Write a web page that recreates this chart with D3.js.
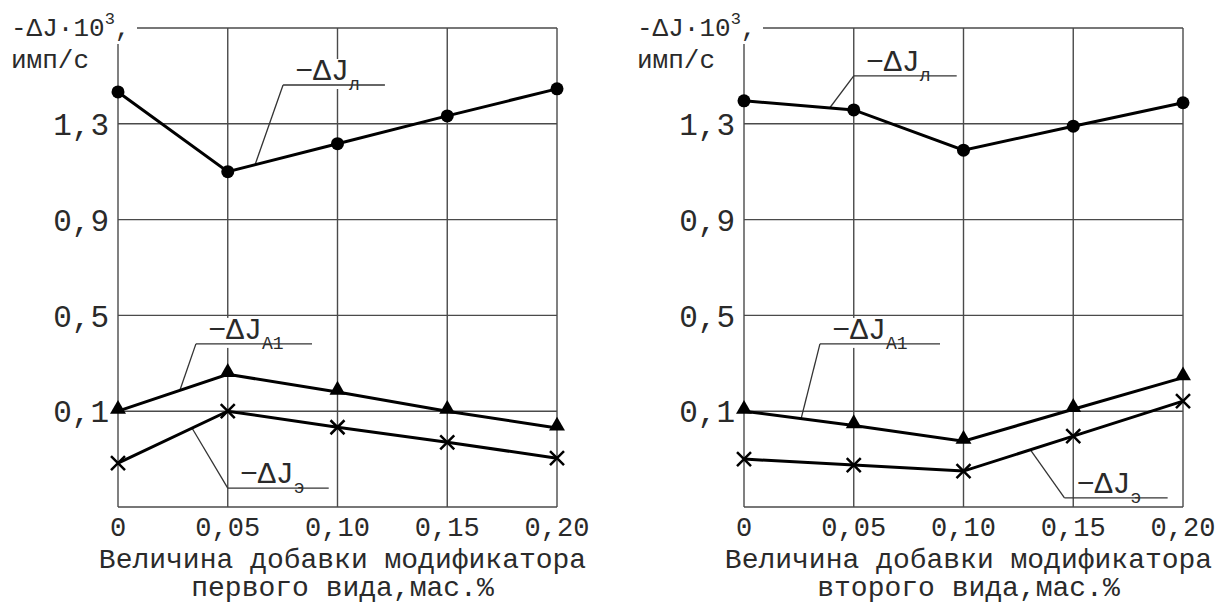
<!DOCTYPE html>
<html>
<head>
<meta charset="utf-8">
<script src="https://cdn.jsdelivr.net/npm/d3@7"></script>
<style>
  body { margin: 0; background: #fff; }
  text { font-family: "Liberation Mono", "Courier New", monospace; fill: #2a2a2a; }
</style>
</head>
<body>
<svg id="chart"></svg>
<script>
// x values (modifier addition, mass %) and tick labels
const xValues = [0, 0.05, 0.10, 0.15, 0.20];
const xTickLabels = ["0", "0,05", "0,10", "0,15", "0,20"];
const yTicks = [0.1, 0.5, 0.9, 1.3];
const yTickLabels = ["0,1", "0,5", "0,9", "1,3"];

// first kind of modifier
const firstL = [1.433, 1.10, 1.217, 1.333, 1.446];
const firstA1 = [0.10, 0.254, 0.18, 0.10, 0.03];
const firstE = [-0.117, 0.10, 0.033, -0.03, -0.096];

// second kind of modifier
const secondL = [1.396, 1.358, 1.19, 1.29, 1.388];
const secondA1 = [0.10, 0.04, -0.025, 0.108, 0.24];
const secondE = [-0.10, -0.125, -0.15, -0.004, 0.142];

const width = 1227, height = 605;
const svg = d3.select("#chart").attr("width", width).attr("height", height);

const y = d3.scaleLinear().domain([-0.3, 1.7]).range([507, 28]);

const panels = [
    {
        range: [118, 557], caption: ["Величина добавки модификатора", "первого вида,мас.%"],
        series: [
            { values: firstL, marker: "circle" },
            { values: firstA1, marker: "triangle" },
            { values: firstE, marker: "cross" }
        ],
        notes: [
            { sub: "л", lx: 0.0752, ux: 0.1216, uy: 1.462, px: 0.0624, py: 1.128 },
            { sub: "A1", lx: 0.0355, ux: 0.0884, uy: 0.381, px: 0.0282, py: 0.1875 },
            { sub: "э", lx: 0.05, ux: 0.096, uy: -0.221, px: 0.0337, py: 0.03 }
        ]
    },
    {
        range: [744, 1183], caption: ["Величина добавки модификатора", "второго вида,мас.%"],
        series: [
            { values: secondL, marker: "circle" },
            { values: secondA1, marker: "triangle" },
            { values: secondE, marker: "cross" }
        ],
        notes: [
            { sub: "л", lx: 0.05, ux: 0.0969, uy: 1.5, px: 0.0392, py: 1.368 },
            { sub: "A1", lx: 0.0346, ux: 0.0893, uy: 0.381, px: 0.026, py: 0.068 },
            { sub: "э", lx: 0.146, ux: 0.193, uy: -0.262, px: 0.1305, py: -0.061 }
        ]
    }
];

panels.forEach(p => {
    const x = d3.scaleLinear().domain([0, 0.2]).range(p.range);
    const g = svg.append("g");
    const gridColor = "#4a4a4a";

    // grid
    g.selectAll(".hgrid")
        .data(yTicks.concat([1.7, -0.3]))
        .enter().append("line")
        .attr("x1", x(0)).attr("x2", x(0.2))
        .attr("y1", d => y(d)).attr("y2", d => y(d))
        .attr("stroke", gridColor).attr("stroke-width", 1.4);
    g.selectAll(".vgrid")
        .data(xValues)
        .enter().append("line")
        .attr("x1", d => x(d)).attr("x2", d => x(d))
        .attr("y1", y(1.7)).attr("y2", y(-0.3))
        .attr("stroke", gridColor).attr("stroke-width", 1.4);

    // y tick labels
    g.selectAll(".ytick")
        .data(yTicks)
        .enter().append("text")
        .attr("x", x(0) - 9)
        .attr("y", d => y(d))
        .attr("dy", "0.36em")
        .attr("text-anchor", "end")
        .attr("font-size", 31)
        .text((d, i) => yTickLabels[i]);

    // x tick labels
    g.selectAll(".xtick")
        .data(xValues)
        .enter().append("text")
        .attr("x", d => x(d))
        .attr("y", 536)
        .attr("text-anchor", "middle")
        .attr("font-size", 27)
        .text((d, i) => xTickLabels[i]);

    // captions
    g.selectAll(".caption")
        .data(p.caption)
        .enter().append("text")
        .attr("x", (x(0) + x(0.2)) / 2 + 5)
        .attr("y", (d, i) => 568 + i * 28)
        .attr("text-anchor", "middle")
        .attr("font-size", 28)
        .text(d => d);

    // axis title with white background to break the frame
    const title = g.append("g");
    const tx = x(0) - 107;
    title.append("rect")
        .attr("x", tx - 4).attr("y", 0)
        .attr("width", 130).attr("height", 44)
        .attr("fill", "#fff");
    const t1 = title.append("text").attr("x", tx).attr("y", 36).attr("font-size", 26);
    t1.append("tspan").text("-ΔJ·10");
    t1.append("tspan").attr("dy", -12).attr("font-size", 17).text("3");
    t1.append("tspan").attr("dy", 12).text(",");
    title.append("text").attr("x", tx).attr("y", 68).attr("font-size", 26).text("имп/с");

    // annotations (leader lines + labels)
    p.notes.forEach(n => {
        const ng = g.append("g");
        const label = ng.append("text")
            .attr("x", x(n.lx) + 12)
            .attr("y", y(n.uy) - 5)
            .attr("font-size", 30);
        label.append("tspan").text("−ΔJ");
        label.append("tspan").attr("dy", 10).attr("font-size", 18).text(n.sub);
        const bb = label.node().getBBox();
        ng.insert("rect", "text")
            .attr("x", bb.x - 2).attr("y", bb.y + 4)
            .attr("width", bb.width + 4).attr("height", bb.height - 10)
            .attr("fill", "#fff");
        ng.append("line")
            .attr("x1", x(n.lx)).attr("x2", x(n.ux))
            .attr("y1", y(n.uy)).attr("y2", y(n.uy))
            .attr("stroke", "#333").attr("stroke-width", 1.3);
        ng.append("line")
            .attr("x1", x(n.lx)).attr("y1", y(n.uy))
            .attr("x2", x(n.px)).attr("y2", y(n.py))
            .attr("stroke", "#333").attr("stroke-width", 1.3);
    });

    // data lines and markers
    const line = d3.line().x((d, i) => x(xValues[i])).y(d => y(d));
    p.series.forEach(s => {
        g.append("path")
            .datum(s.values)
            .attr("d", line)
            .attr("fill", "none")
            .attr("stroke", "#000")
            .attr("stroke-width", 3);

        const pts = s.values.map((v, i) => ({ x: x(xValues[i]), y: y(v) }));
        if (s.marker === "circle") {
            g.selectAll(null).data(pts).enter().append("circle")
                .attr("cx", d => d.x).attr("cy", d => d.y).attr("r", 6.5)
                .attr("fill", "#000");
        } else if (s.marker === "triangle") {
            const tri = d3.symbol().type(d3.symbolTriangle).size(110);
            g.selectAll(null).data(pts).enter().append("path")
                .attr("d", tri)
                .attr("transform", d => `translate(${d.x},${d.y - 2})`)
                .attr("fill", "#000");
        } else {
            g.selectAll(null).data(pts).enter().append("path")
                .attr("d", "M-7,-7L7,7M-7,7L7,-7")
                .attr("transform", d => `translate(${d.x},${d.y})`)
                .attr("stroke", "#000").attr("stroke-width", 2.5)
                .attr("fill", "none");
        }
    });
});
</script>
</body>
</html>
